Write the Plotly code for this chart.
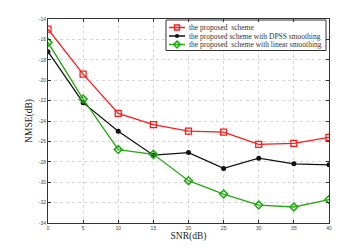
import plotly.graph_objects as go

snr = [0, 5, 10, 15, 20, 25, 30, 35, 40]
proposed = [-15.0, -19.4, -23.25, -24.35, -25.0, -25.1, -26.3, -26.2, -25.6]
dpss = [-17.2, -22.2, -25.0, -27.35, -27.1, -28.65, -27.65, -28.2, -28.3]
linear = [-16.3, -21.85, -26.8, -27.27, -29.85, -31.16, -32.24, -32.43, -31.7]
names = ["the proposed  scheme", "the proposed scheme with DPSS smoothing",
         "the proposed  scheme with linear smoothing"]
xticks = [0, 5, 10, 15, 20, 25, 30, 35, 40]
yticks = [-14, -16, -18, -20, -22, -24, -26, -28, -30, -32, -34]

colors = ["#ff1a1a", "#111111", "#22aa11"]
markers = [dict(symbol="square-open", size=6, line=dict(width=1.3)),
           dict(symbol="circle", size=5),
           dict(symbol="diamond-open", size=6, line=dict(width=1.6))]
series = [proposed, dpss, linear]

fig = go.Figure()
for name, ys, c, m in zip(names, series, colors, markers):
    fig.add_trace(go.Scatter(x=snr, y=ys, name=name, mode="lines+markers",
                             line=dict(color=c, width=1.3),
                             marker=dict(color=c, **m), showlegend=False))

# page body has an 8px default margin; compensate so the plot area lands at
# left 48, right 329, top 19, bottom 223 in the window
OFF = 8
W, H = 364 - OFF, 251 - OFF
PL, PR, PT, PB = 48, 329, 19, 223

# custom compact legend drawn on a pixel-unit overlay axis
bx0, bx1, by0, by1 = 166, 326, 20, 50.5
fig.add_trace(go.Scatter(x=[bx0, bx1, bx1, bx0, bx0], y=[by0, by0, by1, by1, by0],
                         mode="lines", fill="toself", fillcolor="white",
                         line=dict(color="#333333", width=1), xaxis="x2", yaxis="y2",
                         showlegend=False, hoverinfo="skip"))
entry_y = [27.5, 36, 44.5]
for name, c, m, ey in zip(names, colors, markers, entry_y):
    fig.add_trace(go.Scatter(x=[169, 177, 185], y=[ey, ey, ey], mode="lines",
                             line=dict(color=c, width=1.5), xaxis="x2", yaxis="y2",
                             showlegend=False, hoverinfo="skip"))
    mm = dict(m)
    mm["size"] = mm["size"] - 1
    fig.add_trace(go.Scatter(x=[177], y=[ey], mode="markers", marker=dict(color=c, **mm),
                             xaxis="x2", yaxis="y2", showlegend=False, hoverinfo="skip"))
    fig.add_annotation(x=187, y=ey, xref="x2", yref="y2", text=name, showarrow=False,
                       xanchor="left", yanchor="middle",
                       font=dict(family="Liberation Serif, Times New Roman", size=7.5, color="#333333"))

axis_common = dict(showline=True, linecolor="#333333", linewidth=1, mirror="ticks",
                   ticks="inside", ticklen=3, tickcolor="#333333", automargin=False,
                   showgrid=True, gridcolor="#d6d6d6", griddash="dot", gridwidth=1,
                   zeroline=False, tickfont=dict(family="Liberation Sans, Arial", size=5, color="#444444"))

fig.update_layout(
    width=W, height=H,
    margin=dict(l=PL - OFF, r=364 - PR, t=PT - OFF, b=251 - PB),
    paper_bgcolor="white", plot_bgcolor="white", showlegend=False,
    xaxis=dict(range=[0, 40], tickvals=xticks, ticktext=[str(v) for v in xticks],
               title=dict(text="SNR(dB)", font=dict(family="Liberation Serif, Times New Roman", size=9.5, color="#222222"), standoff=2),
               **axis_common),
    yaxis=dict(range=[-34, -14], tickvals=yticks, ticktext=[str(v) for v in yticks],
               title=dict(text="NMSE(dB)", font=dict(family="Liberation Serif, Times New Roman", size=9.5, color="#222222"), standoff=4),
               **axis_common),
    xaxis2=dict(range=[PL, PR], overlaying="x", visible=False, fixedrange=True),
    yaxis2=dict(range=[PB, PT], overlaying="y", visible=False, fixedrange=True),
)

fig.write_html("out.html")
